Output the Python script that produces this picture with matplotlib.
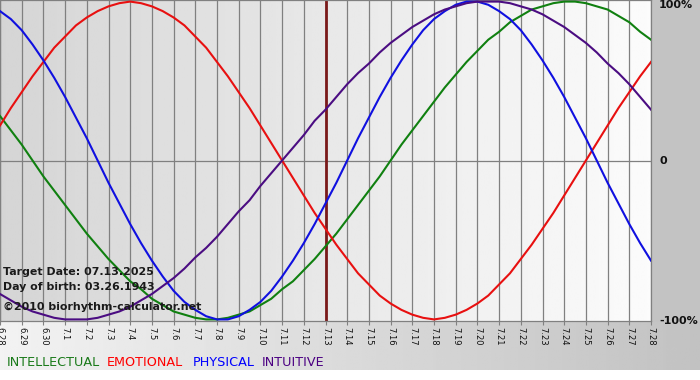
#!/usr/bin/env python3
"""Biorhythm chart for 07.13.2025 (birth 03.26.1943)."""

import matplotlib
matplotlib.use("Agg")
import matplotlib.pyplot as plt
import numpy as np

W, H, DPI = 700, 380, 100

dates = ["6.28", "6.29", "6.30"] + [f"7.{d}" for d in range(1, 29)]
target_date = "7.13"

# values in percent, every half day (6.28 .. 7.28)
intellectual = [28, 19, 10, 0, -10, -19, -28, -37, -46, -54, -62, -69, -76, -81, -87, -91,
                -95, -97, -99, -100, -100, -99, -97, -95, -91, -87, -81, -76, -69, -62,
                -54, -46, -37, -28, -19, -10, 0, 10, 19, 28, 37, 46, 54, 62, 69, 76,
                81, 87, 91, 95, 97, 99, 100, 100, 99, 97, 95, 91, 87, 81, 76]
emotional = [22, 33, 43, 53, 62, 71, 78, 85, 90, 94, 97, 99, 100, 99, 97, 94,
             90, 85, 78, 71, 62, 53, 43, 33, 22, 11, 0, -11, -22, -33,
             -43, -53, -62, -71, -78, -85, -90, -94, -97, -99, -100, -99, -97, -94, -90, -85,
             -78, -71, -62, -53, -43, -33, -22, -11, 0, 11, 22, 33, 43, 53, 62]
physical = [94, 89, 82, 73, 63, 52, 40, 27, 14, 0, -14, -27, -40, -52, -63, -73,
            -82, -89, -94, -98, -100, -100, -98, -94, -89, -82, -73, -63, -52, -40,
            -27, -14, 0, 14, 27, 40, 52, 63, 73, 82, 89, 94, 98, 100, 100, 98,
            94, 89, 82, 73, 63, 52, 40, 27, 14, 0, -14, -27, -40, -52, -63]
intuitive = [-84, -88, -92, -95, -97, -99, -100, -100, -100, -99, -97, -95, -92, -88, -84, -79,
             -74, -68, -61, -55, -48, -40, -32, -25, -16, -8, 0, 8, 16, 25,
             32, 40, 48, 55, 61, 68, 74, 79, 84, 88, 92, 95, 97, 99, 100, 100,
             100, 99, 97, 95, 92, 88, 84, 79, 74, 68, 61, 55, 48, 40, 32]

series = [
    ("INTELLECTUAL", intellectual, "#108010", "#1a7a1a"),
    ("EMOTIONAL", emotional, "#e81010", "#ff0000"),
    ("PHYSICAL", physical, "#1010e0", "#0000ff"),
    ("INTUITIVE", intuitive, "#4b0d82", "#4b0082"),
]


def px(x, y):
    return x / W, 1 - y / H


fig = plt.figure(figsize=(W / DPI, H / DPI), dpi=DPI)
fig.patch.set_facecolor("white")

# background panels in pixel space
bg = fig.add_axes([0, 0, 1, 1])
bg.axis("off")
bg.imshow([[0.765]], cmap="gray", vmin=0, vmax=1, extent=(651, W, 322, 0), aspect="auto")
ramp = np.linspace(0.95, 0.76, 256)[None, :]
bg.imshow(ramp, cmap="gray", vmin=0, vmax=1, extent=(0, W, 370, 322), aspect="auto")
bg.set_xlim(0, W)
bg.set_ylim(H, 0)

ax = fig.add_axes([0, 1 - 321 / H, 651 / W, 321 / H])
ax.set_facecolor("none")
days = np.arange(len(dates))
ax.set_xlim(0, len(dates) - 1)
ax.set_ylim(-101, 101)

plot_ramp = np.linspace(0.835, 0.985, 256)[None, :]
ax.imshow(plot_ramp, cmap="gray", vmin=0, vmax=1, extent=(0, len(dates) - 1, -101, 101),
          aspect="auto", zorder=0)

ax.set_xticks(days)
ax.set_xticklabels(dates, rotation=270, fontsize=6, color="#111111")
ax.tick_params(axis="x", length=3, color="#808080", pad=1)
ax.set_yticks([])
ax.grid(axis="x", color="#808080", lw=0.9, zorder=1)
ax.axhline(0, color="#808080", lw=0.9, zorder=1)
for sp in ax.spines.values():
    sp.set_color("#808080")
    sp.set_linewidth(0.9)

ax.axvline(dates.index(target_date), color="#7a1a1a", lw=2, zorder=2)

for name, vals, color, _ in series:
    xs = np.arange(len(vals)) * 0.5
    ax.plot(xs, vals, color=color, lw=1.5, zorder=3, solid_joinstyle="round")

# right-side scale labels
for val, label, va in [(101, "100%", "top"), (0, "0", "center"), (-101, "-100%", "center")]:
    ax.text(659 / 651, val, label, transform=ax.get_yaxis_transform(), ha="left", va=va,
            fontsize=8, fontweight="bold", color="#111111", clip_on=False)

# info block
for y, txt in [(272, "Target Date: 07.13.2025"), (287, "Day of birth: 03.26.1943"),
               (307, "\u00a92010 biorhythm-calculator.net")]:
    fig.text(*px(3, y), txt, ha="left", va="center", fontsize=7.9, fontweight="bold",
             color="#1a1a1a", zorder=5)

# legend row
for (name, _, _, tcolor), lx in zip(series, [7, 107, 193, 262]):
    fig.text(*px(lx, 362), name, ha="left", va="center", fontsize=9.2, color=tcolor)

fig.savefig("out.png", dpi=DPI)
